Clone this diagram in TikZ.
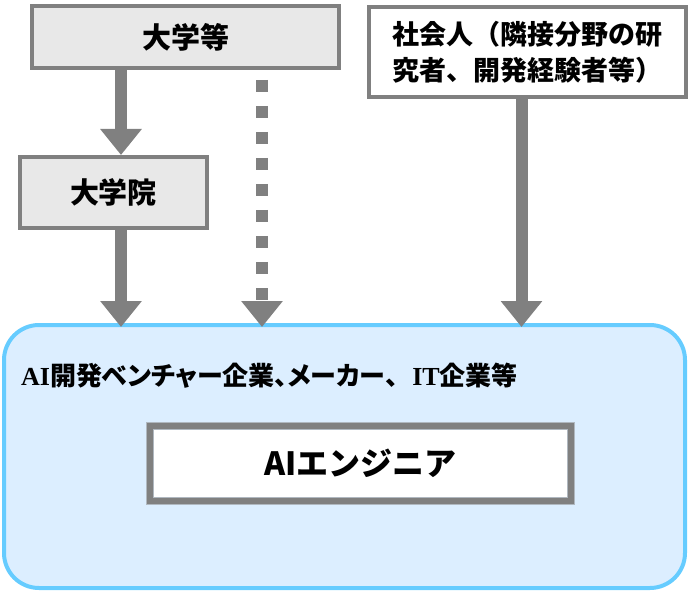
\documentclass[tikz,border=0pt]{standalone}
\usepackage{fontspec}
\newfontfamily\jp{Noto Sans CJK JP}
\newfontfamily\jpp{Noto Sans CJK JP}[RawFeature=+palt]
\newfontfamily\serifb{Liberation Serif}
\usetikzlibrary{arrows.meta}
\definecolor{boxgray}{RGB}{128,128,128}
\definecolor{boxfill}{RGB}{232,232,232}
\definecolor{skyline}{RGB}{102,204,255}
\definecolor{skyfill}{RGB}{220,238,255}
\definecolor{thinline}{RGB}{176,184,192}
\begin{document}
\begin{tikzpicture}[x=1pt,y=-1pt,
  srcbox/.style={draw=boxgray, line width=4pt, fill=boxfill, inner sep=0pt,
    font=\jp\bfseries\fontsize{29}{36}\selectfont, align=center},
  flow/.style={draw=boxgray, line width=12pt, shorten >=-4pt,
    -{Triangle[width=40pt,length=26pt]}},
]
\useasboundingbox (0,0) rectangle (689,591);
\node[srcbox, minimum width=307pt, minimum height=62pt] (univ) at (185.5,37) {大学等};
\node[srcbox, minimum width=187pt, minimum height=71pt] (grad) at (113.5,192.5) {大学院};
\node[srcbox, fill=white, minimum width=317pt, minimum height=90pt,
  font=\jp\bfseries\fontsize{27}{36}\selectfont] (work) at (527.5,52)
  {社会人（隣接分野の研\\究者、開発経験者等）};
\node[draw=skyline, line width=4pt, fill=skyfill, rounded corners=35pt,
  minimum width=681pt, minimum height=263pt, inner sep=0pt] (corp) at (344.5,456.5) {};
\node[anchor=west, inner sep=0pt, font=\jpp\bfseries\fontsize{26}{30}\selectfont] (corplabel) at (21,376)
  {{\serifb\bfseries AI}開発ベンチャー企業、メーカー{\jp\bfseries 、}\kern1pt{\serifb\bfseries IT}企業等};
\node[draw=thinline, line width=1pt, double=boxgray, double distance=6pt, fill=white,
  minimum width=421pt, minimum height=75pt, inner sep=0pt,
  font=\jp\bfseries\fontsize{32}{36}\selectfont] (eng) at (360.5,463.5) {AIエンジニア};
\coordinate (c1) at (121,0);
\coordinate (c2) at (262,0);
\coordinate (c3) at (521.5,0);
\draw[flow, shorten >=0pt] (univ.south -| c1) -- (grad.north -| c1);
\draw[flow] (grad.south -| c1) -- (corp.north -| c1);
\draw[flow, dash pattern=on 12pt off 14pt, dash phase=16pt] (univ.south -| c2) -- (corp.north -| c2);
\draw[flow] (work.south -| c3) -- (corp.north -| c3);
\end{tikzpicture}
\end{document}
